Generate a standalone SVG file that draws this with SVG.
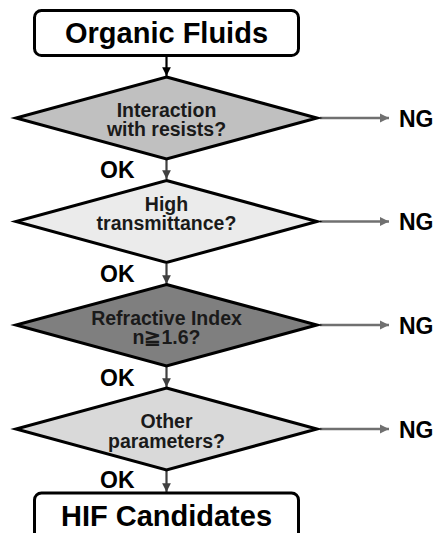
<svg xmlns="http://www.w3.org/2000/svg" width="437" height="533" viewBox="0 0 437 533">
<style>
text{font-family:"Liberation Sans",Arial,sans-serif;font-weight:bold;fill:#000;text-anchor:middle}
.box{fill:#fff;stroke:#000;stroke-width:3}
.dia{stroke:#000;stroke-width:3;stroke-linejoin:miter}
.t{font-size:29px}
.d{font-size:19.5px;fill:#1a1a1a}
.lab{font-size:23px;text-anchor:start}
.v{stroke:#404040;stroke-width:2.2;fill:none}
.h{stroke:#707070;stroke-width:2.6;fill:none}
</style>
<defs>
<marker id="av" viewBox="0 0 10 10" refX="10" refY="5" markerWidth="4" markerHeight="4" orient="auto" markerUnits="strokeWidth"><path d="M0,0L10,5L0,10z" fill="#404040"/></marker>
<marker id="ah" viewBox="0 0 10 10" refX="10" refY="5" markerWidth="3.6" markerHeight="3.6" orient="auto" markerUnits="strokeWidth"><path d="M0,0L10,5L0,10z" fill="#707070"/></marker>
<marker id="ab" viewBox="0 0 10 10" refX="10" refY="5" markerWidth="4" markerHeight="4" orient="auto" markerUnits="strokeWidth"><path d="M0,0L10,5L0,10z" fill="#000"/></marker>
</defs>
<g id="connectors">
<line x1="166.5" y1="56" x2="166.5" y2="76" style="stroke:#000;stroke-width:2.2" marker-end="url(#ab)"/>
<line class="v" x1="166.5" y1="160" x2="166.5" y2="179" marker-end="url(#av)"/>
<line class="v" x1="166.5" y1="264" x2="166.5" y2="284" marker-end="url(#av)"/>
<line class="v" x1="166.5" y1="367" x2="166.5" y2="387" marker-end="url(#av)"/>
<line class="v" x1="166.5" y1="471" x2="166.5" y2="492" marker-end="url(#av)"/>
<line class="h" x1="320" y1="118" x2="389" y2="118" marker-end="url(#ah)"/>
<line class="h" x1="320" y1="221.5" x2="389" y2="221.5" marker-end="url(#ah)"/>
<line class="h" x1="320" y1="325" x2="389" y2="325" marker-end="url(#ah)"/>
<line class="h" x1="320" y1="429" x2="389" y2="429" marker-end="url(#ah)"/>
<text class="lab" x="100" y="178">OK</text>
<text class="lab" x="100" y="282">OK</text>
<text class="lab" x="100" y="386">OK</text>
<text class="lab" x="100" y="488">OK</text>
<text class="lab" x="399" y="126.5">NG</text>
<text class="lab" x="399" y="230">NG</text>
<text class="lab" x="399" y="333.5">NG</text>
<text class="lab" x="399" y="437.5">NG</text>
</g>
<g id="start">
<rect class="box" x="34.5" y="10.5" width="264" height="45" rx="7"/>
<text class="t" x="166.5" y="43">Organic Fluids</text>
</g>
<g id="d1">
<polygon class="dia" fill="#c0c0c0" points="166.5,77 317,118 166.5,159 16,118"/>
<text class="d" x="166.5" y="117">Interaction</text>
<text class="d" x="166.5" y="135.5">with resists?</text>
</g>
<g id="d2">
<polygon class="dia" fill="#ebebeb" points="166.5,180.5 317,221.5 166.5,262.5 16,221.5"/>
<text class="d" x="166.5" y="211">High</text>
<text class="d" x="166.5" y="230">transmittance?</text>
</g>
<g id="d3">
<polygon class="dia" fill="#7f7f7f" points="166.5,284.5 317,325 166.5,366 16,325"/>
<text class="d" x="166.5" y="324.5">Refractive Index</text>
<text class="d" x="166.5" y="344">n≧1.6?</text>
</g>
<g id="d4">
<polygon class="dia" fill="#d9d9d9" points="166.5,388 317,429 166.5,470 16,429"/>
<text class="d" x="166.5" y="428">Other</text>
<text class="d" x="166.5" y="447.5">parameters?</text>
</g>
<g id="end">
<rect class="box" x="34.5" y="493" width="264" height="50" rx="7"/>
<text class="t" x="166.5" y="526">HIF Candidates</text>
</g>
</svg>
